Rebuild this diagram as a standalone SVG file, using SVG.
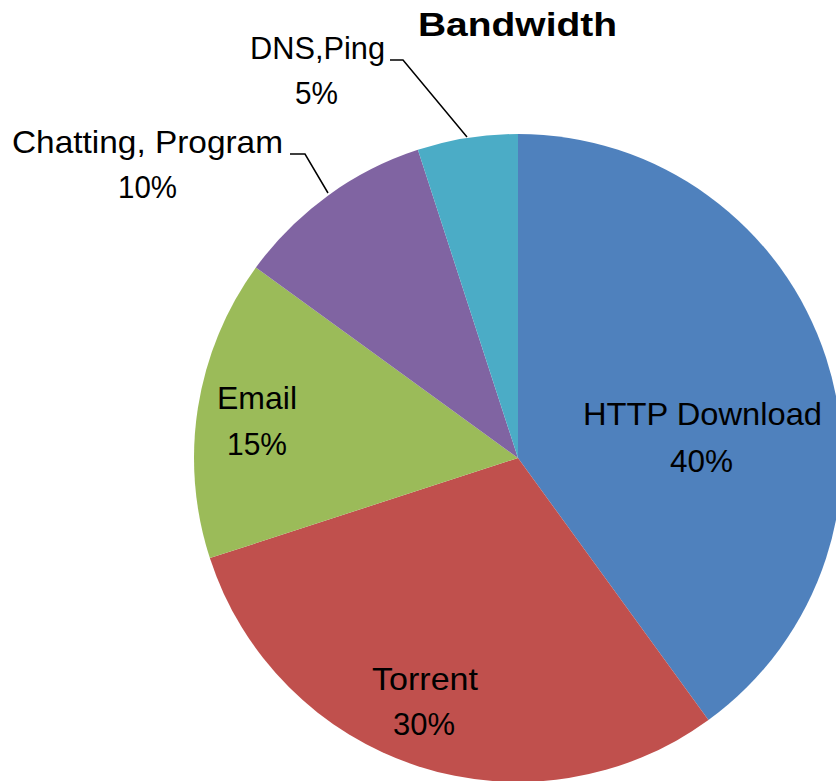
<svg xmlns="http://www.w3.org/2000/svg" width="836" height="781" viewBox="0 0 836 781">
<style>
.lbl{font-family:"Liberation Sans",Arial,sans-serif;font-size:32px;fill:#000;text-anchor:middle}
.ttl{font-family:"Liberation Sans",Arial,sans-serif;font-size:34px;font-weight:bold;fill:#000;text-anchor:middle}
.lead{fill:none;stroke:#000;stroke-width:1.5}
</style>
<rect width="836" height="781" fill="#fff"/>
<text class="ttl" x="517.5" y="36" textLength="199" lengthAdjust="spacingAndGlyphs">Bandwidth</text>
<g id="http">
<path d="M518,458 L518,134 A324,324 0 0 1 708.44,720.12 Z" fill="#4F81BD"/>
<text class="lbl" x="702.5" y="425" textLength="239" lengthAdjust="spacingAndGlyphs">HTTP Download</text>
<text class="lbl" x="701.5" y="472" textLength="63" lengthAdjust="spacingAndGlyphs">40%</text>
</g>
<g id="torrent">
<path d="M518,458 L708.44,720.12 A324,324 0 0 1 209.86,558.12 Z" fill="#C0504D"/>
<text class="lbl" x="425" y="690" textLength="106" lengthAdjust="spacingAndGlyphs">Torrent</text>
<text class="lbl" x="424" y="735" textLength="62" lengthAdjust="spacingAndGlyphs">30%</text>
</g>
<g id="email">
<path d="M518,458 L209.86,558.12 A324,324 0 0 1 255.88,267.56 Z" fill="#9BBB59"/>
<text class="lbl" x="257" y="409" textLength="80" lengthAdjust="spacingAndGlyphs">Email</text>
<text class="lbl" x="257" y="455" textLength="60" lengthAdjust="spacingAndGlyphs">15%</text>
</g>
<g id="chatting">
<path d="M518,458 L255.88,267.56 A324,324 0 0 1 417.88,149.86 Z" fill="#8064A2"/>
<text class="lbl" x="147.5" y="153" textLength="271" lengthAdjust="spacingAndGlyphs">Chatting, Program</text>
<text class="lbl" x="147.5" y="198" textLength="59" lengthAdjust="spacingAndGlyphs">10%</text>
</g>
<g id="dns">
<path d="M518,458 L417.88,149.86 A324,324 0 0 1 518,134 Z" fill="#4BACC6"/>
<text class="lbl" x="317.5" y="59" textLength="135" lengthAdjust="spacingAndGlyphs">DNS,Ping</text>
<text class="lbl" x="316.5" y="104" textLength="43" lengthAdjust="spacingAndGlyphs">5%</text>
</g>
<g id="connectors">
<polyline class="lead" points="390,60 403,60 467,137"/>
<polyline class="lead" points="290,154 305,154 328,193"/>
</g>
</svg>
